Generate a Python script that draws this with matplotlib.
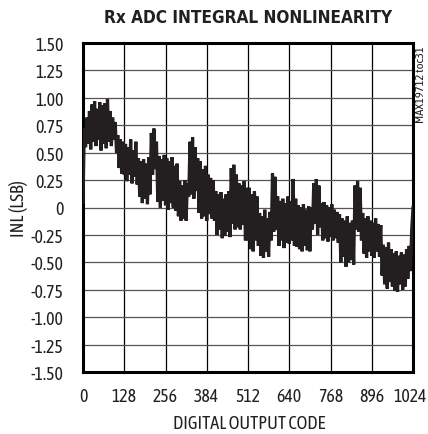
import numpy as np
import matplotlib
matplotlib.use("Agg")
import matplotlib.pyplot as plt
import matplotlib.transforms as mtransforms
from matplotlib import font_manager
from matplotlib.textpath import TextPath

# ---------------- data ----------------
title = "Rx ADC INTEGRAL NONLINEARITY"
x_label = "DIGITAL OUTPUT CODE"
y_label = "INL (LSB)"
side_note = "MAX19712 toc31"

x_ticks = [0, 128, 256, 384, 512, 640, 768, 896, 1024]
x_tick_labels = ["0", "128", "256", "384", "512", "640", "768", "896", "1024"]
y_ticks = [1.5, 1.25, 1.0, 0.75, 0.5, 0.25, 0.0, -0.25, -0.5, -0.75, -1.0, -1.25, -1.5]
y_tick_labels = ["1.50", "1.25", "1.00", "0.75", "0.50", "0.25", "0", "-0.25",
                 "-0.50", "-0.75", "-1.00", "-1.25", "-1.50"]

# sampled every 4 codes (0 .. 1024)
codes = list(range(0, 1025, 4))
inl = [
    0.05, 0.72, 0.55, 0.82, 0.58, 0.88, 0.53, 0.94, 0.60, 0.97, 0.56, 0.90, 0.62, 0.96, 0.52, 0.93,
    0.58, 0.95, 0.54, 0.99, 0.60, 0.88, 0.56, 0.82, 0.62, 0.78, 0.50, 0.66, 0.36, 0.62, 0.31, 0.60,
    0.30, 0.58, 0.24, 0.55, 0.30, 0.62, 0.22, 0.52, 0.28, 0.60, 0.21, 0.45, 0.10, 0.42, 0.04, 0.44,
    0.08, 0.40, 0.03, 0.46, 0.12, 0.68, 0.30, 0.72, 0.35, 0.60, 0.05, 0.47, 0.00, 0.44, 0.06, 0.48,
    0.02, 0.45, -0.02, 0.42, 0.04, 0.46, 0.00, 0.38, -0.03, 0.40, -0.08, 0.24, -0.12, 0.20, -0.10, 0.25,
    -0.12, 0.22, 0.10, 0.60, 0.12, 0.64, 0.08, 0.55, 0.15, 0.45, -0.05, 0.42, -0.10, 0.35, -0.08, 0.38,
    -0.12, 0.30, -0.06, 0.27, -0.10, 0.25, -0.12, 0.15, -0.25, 0.12, -0.20, 0.14, -0.28, 0.08, -0.26, 0.12,
    -0.22, 0.15, -0.27, 0.36, -0.15, 0.39, -0.20, 0.30, -0.18, 0.22, -0.20, 0.20, -0.16, 0.24, -0.30, 0.18,
    -0.30, 0.18, -0.38, 0.12, -0.40, 0.15, -0.30, 0.10, -0.35, -0.05, -0.44, -0.08, -0.46, -0.02, -0.40, -0.10,
    -0.45, -0.04, -0.30, 0.31, -0.22, 0.28, -0.20, 0.10, -0.35, 0.06, -0.30, 0.08, -0.37, 0.04, -0.32, 0.10,
    -0.33, 0.06, -0.30, 0.26, -0.35, 0.08, -0.36, 0.02, -0.38, 0.00, -0.40, 0.03, -0.35, -0.02, -0.39, 0.01,
    -0.40, 0.00, -0.20, 0.22, -0.15, 0.26, -0.25, 0.20, -0.18, 0.04, -0.30, 0.05, -0.28, 0.02, -0.31, 0.00,
    -0.27, 0.03, -0.30, -0.02, -0.28, -0.04, -0.32, -0.06, -0.50, -0.10, -0.45, -0.12, -0.54, -0.08, -0.50, -0.14,
    -0.48, -0.12, -0.52, 0.20, -0.20, 0.24, -0.22, 0.18, -0.30, -0.05, -0.42, -0.10, -0.46, -0.08, -0.40, -0.12,
    -0.44, -0.14, -0.46, -0.10, -0.40, -0.15, -0.45, -0.16, -0.62, -0.34, -0.70, -0.36, -0.74, -0.32, -0.68, -0.38,
    -0.72, -0.42, -0.76, -0.40, -0.77, -0.44, -0.70, -0.41, -0.75, -0.43, -0.72, -0.38, -0.65, -0.35, -0.58, -0.20,
    0.00,
]

# ---------------- font selection (only narrow / condensed candidates) ----------------
fonts = font_manager.fontManager.ttflist
PX = 100 / 72.0


def weight_num(w):
    if isinstance(w, (int, float)):
        return w
    return {"bold": 700, "heavy": 800, "black": 900, "semibold": 600, "demibold": 600,
            "extra bold": 800, "ultrabold": 800, "light": 300, "normal": 400,
            "regular": 400, "book": 400, "medium": 500}.get(str(w).lower(), 400)


def is_narrow(f):
    s = (f.name + " " + f.fname).lower()
    if "cjk" in s:
        return False
    return "narrow" in s or "condensed" in s or str(f.stretch) in (
        "condensed", "semi-condensed", "extra-condensed")


def upright(f):
    s = f.fname.lower()
    return f.style == "normal" and "italic" not in s and "oblique" not in s


narrow = [f for f in fonts if is_narrow(f) and upright(f)]
seen = set()
uniq = []
for f in narrow:
    if f.fname not in seen:
        seen.add(f.fname)
        uniq.append(f)
narrow = uniq[:24]


def measure(fname, text):
    try:
        tp = TextPath((0, 0), text, size=10, prop=font_manager.FontProperties(fname=fname))
        ext = tp.get_extents()
        return ext.width, ext.height
    except Exception:
        return None


def pick(cands, text, target_ratio, cap_px):
    best = None
    for f in cands:
        m = measure(f.fname, text)
        if not m or m[1] <= 0:
            continue
        score = abs(m[0] / m[1] - target_ratio)
        if best is None or score < best[0]:
            best = (score, f.fname, m[1])
    if best is None:
        return None, None
    return best[1], 10 * cap_px / (best[2] * PX)


reg_c = [f for f in narrow if 380 <= weight_num(f.weight) <= 450]
bold_c = [f for f in narrow if weight_num(f.weight) >= 650 or "bold" in f.fname.lower()]

body_fname, body_size = pick(reg_c or narrow, x_label, 155 / 13.0, 13.0)
title_fname, title_size = pick(bold_c, title, 281 / 13.0, 13.0)


def body(size):
    if body_fname:
        return font_manager.FontProperties(fname=body_fname, size=size)
    return font_manager.FontProperties(family="Liberation Sans", size=size)


if body_size is None:
    body_size = 11
if title_fname:
    title_prop = font_manager.FontProperties(fname=title_fname, size=title_size)
else:
    title_prop = font_manager.FontProperties(family="Liberation Sans", weight="bold", size=12)

ink = "#231f20"

# ---------------- figure ----------------
fig = plt.figure(figsize=(4.28, 4.35), dpi=100)
ax = fig.add_axes([83 / 428, 1 - 373 / 435, 330 / 428, 329 / 435])

ax.plot(codes, inl, color=ink, lw=2.3, solid_joinstyle="miter", zorder=3)

ax.set_xlim(0, 1024)
ax.set_ylim(-1.5, 1.5)
ax.set_xticks(x_ticks)
ax.set_xticklabels(x_tick_labels, fontproperties=body(body_size * 0.97))
ax.set_yticks(y_ticks)
ax.set_yticklabels(y_tick_labels, fontproperties=body(body_size * 0.97))
ax.tick_params(axis="both", length=0, colors=ink)
ax.tick_params(axis="y", pad=14)
ax.tick_params(axis="x", pad=11)

# last x tick label sits flush with the figure edge, as in the reference
last = ax.get_xticklabels()[-1]
last.set_transform(last.get_transform() +
                   mtransforms.ScaledTranslation(-3 / 100, 0, fig.dpi_scale_trans))

for xv in x_ticks[1:-1]:
    ax.axvline(xv, color="#000000", lw=0.9, zorder=1)
for yv in y_ticks[1:-1]:
    ax.axhline(yv, color="#555555", lw=0.9, zorder=1)

for sp in ax.spines.values():
    sp.set_linewidth(2.2)
    sp.set_color("#000000")

ax.set_xlabel(x_label, fontproperties=body(body_size), color=ink)
ax.xaxis.set_label_coords((249.5 - 83) / 330, -(415 - 373) / 329)
ax.set_ylabel(y_label, fontproperties=body(body_size), color=ink)
ax.yaxis.set_label_coords((28 - 83) / 330, 0.5)

fig.text(248 / 428, 1 - 18 / 435, title, ha="center", va="center",
         fontproperties=title_prop, color=ink)
fig.text(420 / 428, 1 - 46 / 435, side_note, rotation=90, ha="center", va="top",
         fontproperties=body(body_size * 0.68), color=ink)

fig.savefig("out.png", dpi=100)
